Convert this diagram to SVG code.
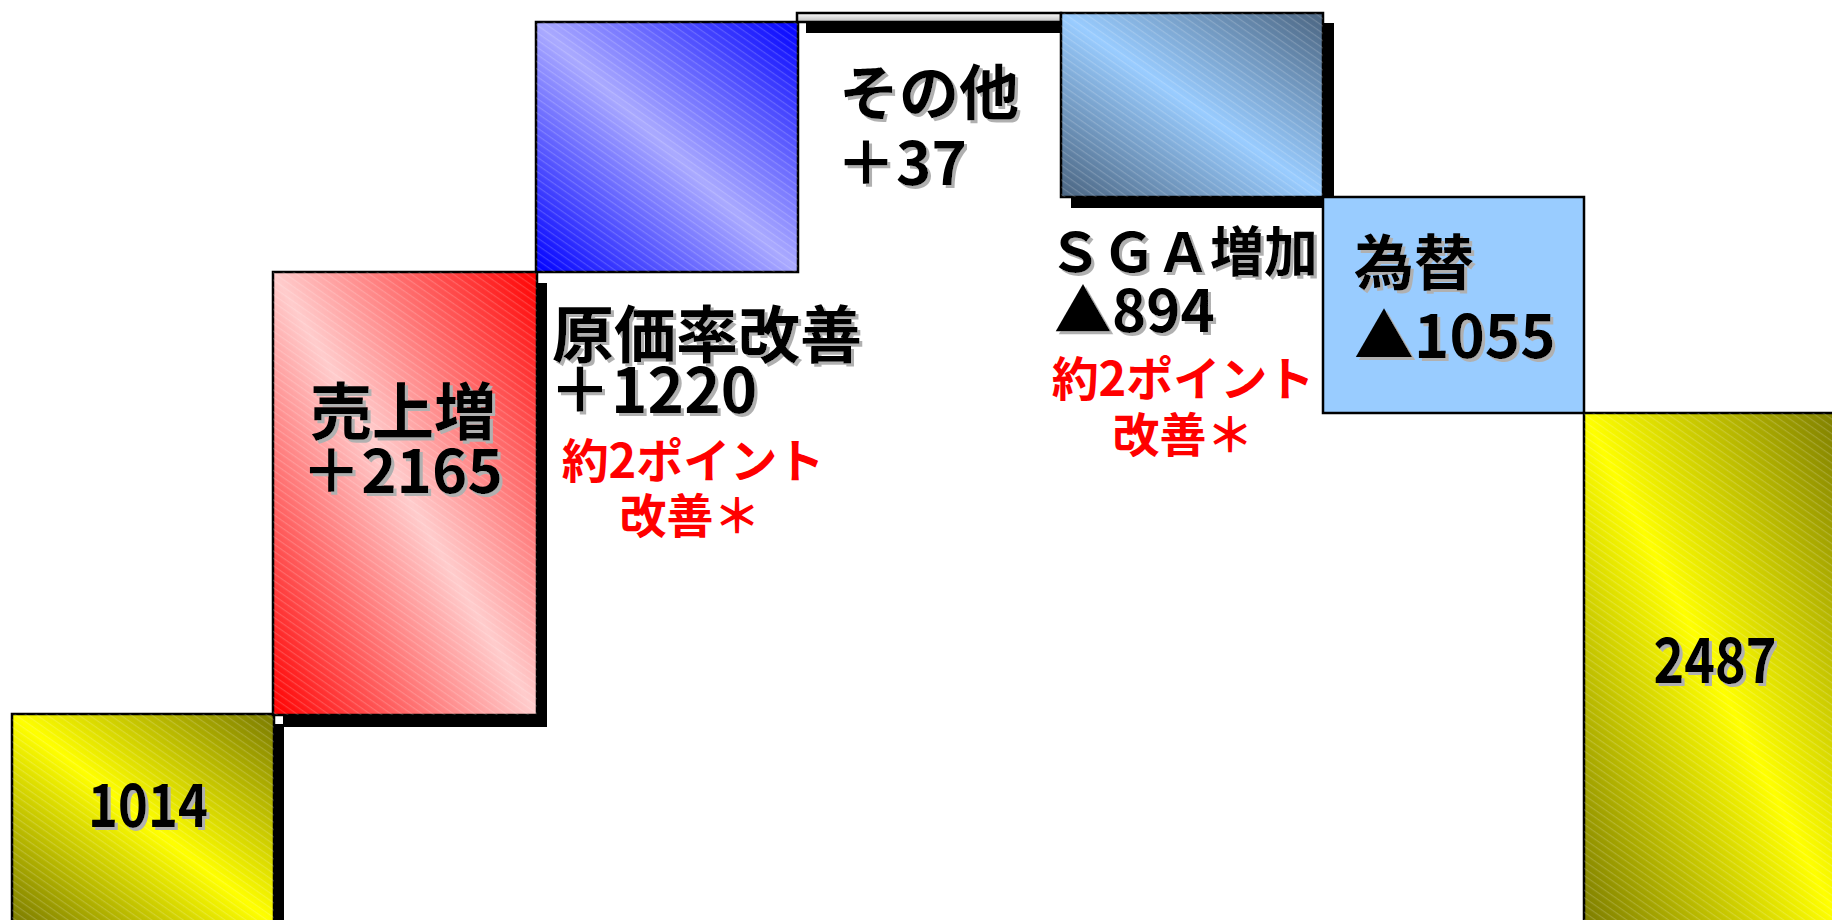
<svg xmlns="http://www.w3.org/2000/svg" width="1832" height="920" viewBox="0 0 1832 920">
<style>
.box{stroke:#000;stroke-width:2.5}
.shadow{fill:#000}
.t{font-family:"Noto Sans CJK JP","Liberation Sans",sans-serif;font-weight:700;fill:#000;filter:url(#ts)}
.r{font-family:"Noto Sans CJK JP","Liberation Sans",sans-serif;font-weight:700;fill:#ff0000}
.m{text-anchor:middle}
</style>
<defs>
<filter id="ts" x="-10%" y="-20%" width="130%" height="150%">
<feFlood flood-color="#b0b0b0"/>
<feComposite in2="SourceAlpha" operator="in"/>
<feOffset dx="3" dy="3" result="s"/>
<feMerge><feMergeNode in="s"/><feMergeNode in="SourceGraphic"/></feMerge>
</filter>
<linearGradient id="gY" x1="0" y1="1" x2="1" y2="0">
<stop offset="0" stop-color="#7a7a00"/><stop offset="0.5" stop-color="#ffff00"/><stop offset="1" stop-color="#7a7a00"/>
</linearGradient>
<linearGradient id="gR" x1="0" y1="1" x2="1" y2="0">
<stop offset="0" stop-color="#ff0000"/><stop offset="0.5" stop-color="#ffcccc"/><stop offset="1" stop-color="#ff0000"/>
</linearGradient>
<linearGradient id="gB" x1="0" y1="1" x2="1" y2="0">
<stop offset="0" stop-color="#0000ff"/><stop offset="0.5" stop-color="#aaaaff"/><stop offset="1" stop-color="#0000ff"/>
</linearGradient>
<linearGradient id="gS" x1="0" y1="1" x2="1" y2="0">
<stop offset="0" stop-color="#4a6480"/><stop offset="0.5" stop-color="#99ccff"/><stop offset="1" stop-color="#4a6480"/>
</linearGradient>
<linearGradient id="gW" x1="0" y1="0" x2="0" y2="1">
<stop offset="0" stop-color="#ffffff"/><stop offset="1" stop-color="#bbbbbb"/>
</linearGradient>
<pattern id="st" width="6" height="6" patternUnits="userSpaceOnUse" patternTransform="rotate(35)">
<rect width="6" height="1.2" fill="#ffffff" fill-opacity="0.18"/>
</pattern>
</defs>

<g id="connectors"></g>

<g id="node-1014">
<rect class="shadow" x="22" y="724" width="262" height="210"/>
<rect class="box" x="12" y="714" width="262" height="210" fill="url(#gY)"/>
<rect x="12" y="714" width="262" height="210" fill="url(#st)"/>
<text class="t m" x="148" y="827" font-size="60" textLength="120" lengthAdjust="spacingAndGlyphs">1014</text>
</g>

<g id="node-uriage">
<rect class="shadow" x="283" y="283" width="264" height="444"/>
<rect class="box" x="273" y="272" width="264" height="443" fill="url(#gR)"/>
<rect x="273" y="272" width="264" height="443" fill="url(#st)"/>
<text class="t m" x="403" y="435" font-size="62">売上増</text>
<text class="t m" x="402" y="493" font-size="60">＋2165</text>
</g>

<g id="node-genka">
<rect class="box" x="536" y="22" width="262" height="250" fill="url(#gB)"/>
<rect x="536" y="22" width="262" height="250" fill="url(#st)"/>
<text class="t" x="552" y="358" font-size="62">原価率改善</text>
<text class="t" x="549" y="413" font-size="62">＋1220</text>
<text class="r m" x="693" y="478" font-size="47">約2ポイント</text>
<text class="r m" x="690" y="533" font-size="47">改善＊</text>
</g>

<g id="node-sonota">
<rect class="shadow" x="806" y="23" width="255" height="10"/>
<rect class="box" x="797" y="13" width="264" height="9" fill="url(#gW)"/>
<text class="t" x="839" y="115" font-size="60">その他</text>
<text class="t" x="836" y="185" font-size="60">＋37</text>
</g>

<g id="node-sga">
<rect class="shadow" x="1071" y="23" width="263" height="185"/>
<rect class="box" x="1061" y="13" width="262" height="184" fill="url(#gS)"/>
<rect x="1061" y="13" width="262" height="184" fill="url(#st)"/>
<text class="t" x="1048" y="272" font-size="54">ＳＧＡ増加</text>
<text class="t" x="1054" y="332" font-size="58">▲894</text>
<text class="r m" x="1183" y="396" font-size="47">約2ポイント</text>
<text class="r m" x="1183" y="452" font-size="47">改善＊</text>
</g>

<g id="node-kawase">
<rect class="box" x="1323" y="197" width="261" height="216" fill="#99ccff"/>
<text class="t" x="1354" y="285" font-size="60">為替</text>
<text class="t" x="1354" y="358" font-size="60">▲1055</text>
</g>

<g id="node-2487">
<rect class="box" x="1584" y="413" width="260" height="520" fill="url(#gY)"/>
<rect x="1584" y="413" width="260" height="520" fill="url(#st)"/>
<text class="t m" x="1715" y="683" font-size="62" textLength="123" lengthAdjust="spacingAndGlyphs">2487</text>
</g>
</svg>
